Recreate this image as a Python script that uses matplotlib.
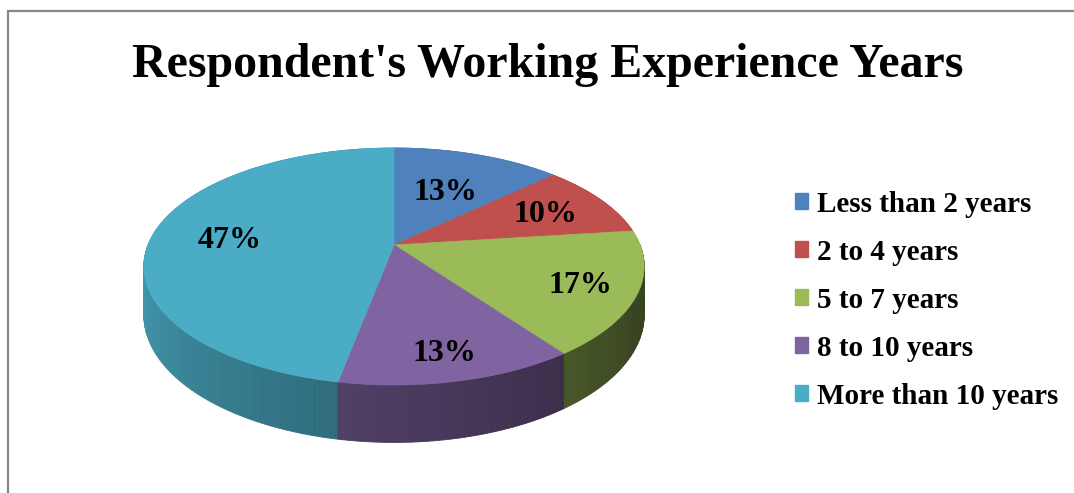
import numpy as np
import matplotlib
matplotlib.use("Agg")
import matplotlib.pyplot as plt
from matplotlib.patches import Polygon, Patch, Rectangle
from matplotlib.colors import to_rgb

# ---- data ----
categories = ["Less than 2 years", "2 to 4 years", "5 to 7 years", "8 to 10 years", "More than 10 years"]
values = [13, 10, 17, 13, 47]
labels = ["13%", "10%", "17%", "13%", "47%"]
colors = ["#4f81bd", "#c0504d", "#9bbb59", "#8064a2", "#4bacc6"]
title = "Respondent's Working Experience Years"

# style: radial placement of each data label (fraction of radius)
label_radius = [0.58, 0.72, 0.78, 0.81, 0.68]

W, Hpx = 1074, 493
fig = plt.figure(figsize=(W / 100, Hpx / 100), dpi=100)
ax = fig.add_axes([0, 0, 1, 1])
ax.set_xlim(0, W)
ax.set_ylim(Hpx, 0)
ax.axis("off")

# chart frame (continues past the right and bottom edges)
fig.add_artist(Rectangle((8 / W, -0.2), 1.2, 1.2 - 11 / Hpx,
                         transform=fig.transFigure, fill=False,
                         edgecolor="#878787", lw=1.6))

# projection parameters (3D perspective pie)
CX, CY, R, B, D, TH = 394.0, 245.0, 246.0, 114.6, 5.51, 47.0

def proj(theta, r=1.0, h=0.0):
    s = np.sin(theta)
    f = D / (D + r * s)
    x = CX + R * r * np.cos(theta) * f
    y = CY - B * r * s * f + h * f
    return x, y

total = float(sum(values))
start = np.pi / 2
bounds = [start]
for v in values:
    bounds.append(bounds[-1] - 2 * np.pi * v / total)

# side walls: small quads, drawn back to front
quads = []
for i, v in enumerate(values):
    a0, a1 = bounds[i], bounds[i + 1]
    n = max(4, int(abs(a1 - a0) / np.radians(1.0)))
    ts = np.linspace(a0, a1, n + 1)
    base = np.array(to_rgb(colors[i]))
    for t0, t1 in zip(ts[:-1], ts[1:]):
        tm = 0.5 * (t0 + t1)
        deg = np.degrees(np.arctan2(np.sin(tm), np.cos(tm)))  # -180..180
        if deg > 0:
            shade = 0.88
        else:
            shade = max(0.36, min(0.9, 0.88 - 0.0036 * (deg + 170)))
        c = np.clip(base * shade, 0, 1)
        x0, y0 = proj(t0)
        x1, y1 = proj(t1)
        x2, y2 = proj(t1, h=TH)
        x3, y3 = proj(t0, h=TH)
        quads.append((np.sin(tm), [(x0, y0), (x1, y1), (x2, y2), (x3, y3)], c))

quads.sort(key=lambda q: -q[0])
for _, pts, c in quads:
    ax.add_patch(Polygon(pts, closed=True, facecolor=c, edgecolor=c, lw=0.6))

# top faces
for i, v in enumerate(values):
    a0, a1 = bounds[i], bounds[i + 1]
    ts = np.linspace(a0, a1, 200)
    xs, ys = proj(ts)
    pts = [(CX, CY)] + list(zip(xs, ys))
    ax.add_patch(Polygon(pts, closed=True, facecolor=colors[i],
                         edgecolor=colors[i], lw=0.5))

# data labels
for i, v in enumerate(values):
    mid = 0.5 * (bounds[i] + bounds[i + 1])
    lx, ly = proj(mid, r=label_radius[i])
    ax.text(lx, ly + 3, labels[i], ha="center", va="center",
            fontsize=23, fontweight="bold", family="Liberation Serif", color="black")

# title
ax.text(548, 77, title, ha="center", va="baseline", fontsize=34.5,
        fontweight="bold", family="Liberation Serif", color="black")

# legend
handles = [Patch(facecolor=c, edgecolor=c) for c in colors]
fig.legend(handles, categories, loc="center left",
           bbox_to_anchor=(795 / W, 1 - 300 / Hpx), frameon=False,
           prop={"family": "Liberation Serif", "weight": "bold", "size": 21},
           handlelength=0.45, handleheight=0.45, handletextpad=0.3,
           labelspacing=0.72, borderpad=0, borderaxespad=0)

fig.savefig("out.png", dpi=100)
